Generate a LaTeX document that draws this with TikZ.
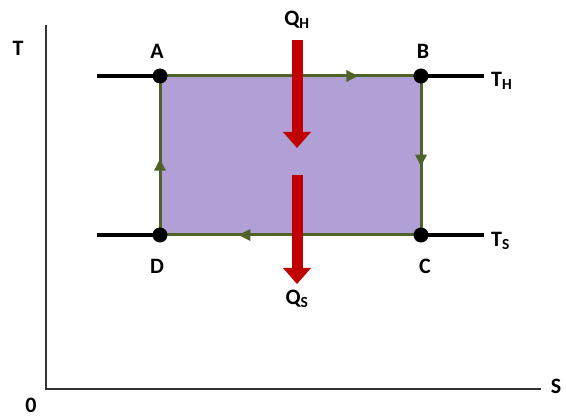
\documentclass[tikz,border=0pt]{standalone}
\usepackage{fontspec}
\setmainfont{Carlito}
\usetikzlibrary{arrows.meta,decorations.markings}
\definecolor{cyclegreen}{HTML}{4F6228}
\definecolor{fillpurple}{HTML}{B1A0D6}
\definecolor{heatred}{HTML}{C00000}
\tikzset{
  lbl/.style={font=\bfseries\fontsize{22}{24}\selectfont, inner sep=0pt},
  axisline/.style={line width=1.3pt, black!80},
  isoline/.style={line width=3.5pt, black},
  cornerdot/.style={circle, fill=black, minimum size=15pt, inner sep=0pt},
  edge/.style={line width=3pt, cyclegreen},
  midtip/.style={postaction={decorate}, decoration={markings, mark=at position #1 with {\arrow{Triangle[length=12pt,width=11pt]}}}},
  heat/.style={heatred, line width=11pt, -{Triangle[length=16pt,width=27pt]}}
}
\begin{document}
\begin{tikzpicture}[x=1pt,y=-1pt]
\useasboundingbox (0,0) rectangle (566,419);
% axes
\coordinate (O) at (46,389);
\coordinate (Ttop) at (46,25);
\coordinate (Send) at (541,389);
\draw[axisline] (Ttop) -- (O) -- (Send);
\node[lbl] (T) at (18,48) {T};
\node[lbl] (zero) at (31,405) {0};
\node[lbl] (S) at (556,386) {S};
% corners
\coordinate (A) at (160,76);
\coordinate (B) at (421,76);
\coordinate (C) at (421,235);
\coordinate (D) at (160,235);
\coordinate (THl) at (97,76);
\coordinate (THr) at (484,76);
\coordinate (TSl) at (97,235);
\coordinate (TSr) at (484,235);
\fill[fillpurple] (A) rectangle (C);
\draw[isoline] (THl) -- (A);
\draw[isoline] (B) -- (THr);
\draw[isoline] (TSl) -- (D);
\draw[isoline] (C) -- (TSr);
\draw[edge, midtip=0.76] (A) -- (B);
\draw[edge, midtip=0.57] (B) -- (C);
\draw[edge, midtip=0.70] (C) -- (D);
\draw[edge, midtip=0.48] (D) -- (A);
\node[cornerdot] (dA) at (A) {};
\node[cornerdot] (dB) at (B) {};
\node[cornerdot] (dC) at (C) {};
\node[cornerdot] (dD) at (D) {};
\node[lbl] (lA) at (157,51) {A};
\node[lbl] (lB) at (423,51) {B};
\node[lbl] (lC) at (425,266) {C};
\node[lbl] (lD) at (157,266) {D};
\node[lbl, anchor=west] (lTH) at (491,81) {T\textsubscript{H}};
\node[lbl, anchor=west] (lTS) at (491,241) {T\textsubscript{S}};
% heat arrows
\coordinate (qh1) at (297,40);
\coordinate (qh2) at (297,148);
\coordinate (qs1) at (297,175);
\coordinate (qs2) at (297,284);
\draw[heat] (qh1) -- (qh2);
\draw[heat] (qs1) -- (qs2);
\node[lbl] (QH) at (297,20) {Q\textsubscript{H}};
\node[lbl] (QS) at (297,299) {Q\textsubscript{S}};
\end{tikzpicture}
\end{document}
